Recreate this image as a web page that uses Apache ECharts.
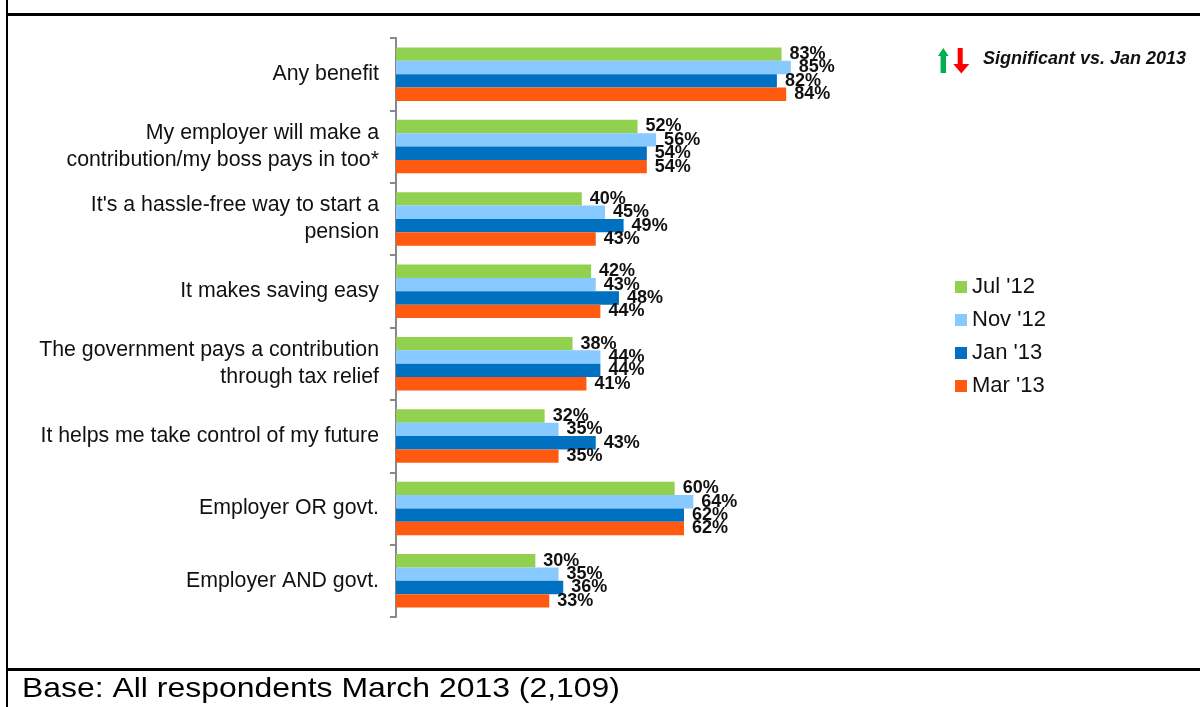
<!DOCTYPE html>
<html>
<head>
<meta charset="utf-8">
<title>Auto-enrolment benefits</title>
<script src="https://cdn.jsdelivr.net/npm/echarts@6/dist/echarts.min.js"></script>
<style>
  html, body { margin: 0; padding: 0; background: #fff; }
  #myChart { width: 1200px; height: 707px; }
</style>
</head>
<body>
<div id="myChart"></div>
<script>
// categories, top to bottom
var categories = [
  'Any benefit',
  'My employer will make a\ncontribution/my boss pays in too*',
  "It's a hassle-free way to start a\npension",
  'It makes saving easy',
  'The government pays a contribution\nthrough tax relief',
  'It helps me take control of my future',
  'Employer OR govt.',
  'Employer AND govt.'
]
var seriesNames = ["Jul '12", "Nov '12", "Jan '13", "Mar '13"]
var jul12 = [83, 52, 40, 42, 38, 32, 60, 30] // Jul '12
var nov12 = [85, 56, 45, 43, 44, 35, 64, 35] // Nov '12
var jan13 = [82, 54, 49, 48, 44, 43, 62, 36] // Jan '13
var mar13 = [84, 54, 43, 44, 41, 35, 62, 33] // Mar '13
var colors = ['#92D050', '#88C9FF', '#0070C0', '#FF5A0F']
var footText = 'Base: All respondents March 2013 (2,109)'
var noteText = 'Significant vs. Jan 2013'

var font = '"Liberation Sans", Arial, sans-serif'
var myChart = echarts.init(document.getElementById('myChart'))

function makeSeries (name, data, color) {
  return {
    name: name,
    type: 'bar',
    data: data,
    barGap: '0%',
    barCategoryGap: '26%',
    itemStyle: { color: color },
    label: {
      show: true,
      position: 'right',
      distance: 8,
      formatter: '{c}%',
      color: '#111',
      fontFamily: font,
      fontWeight: 'bold',
      fontSize: 18
    }
  }
}

var option = {
  animation: false,
  textStyle: { fontFamily: font },
  grid: { left: 396, top: 38, width: 464.5, bottom: 90 },
  legend: {
    orient: 'vertical',
    left: 955,
    top: 276,
    padding: 0,
    icon: 'rect',
    itemWidth: 12,
    itemHeight: 12,
    itemGap: 11,
    data: seriesNames,
    textStyle: { fontSize: 22, color: '#111', fontFamily: font }
  },
  xAxis: {
    type: 'value',
    min: 0,
    max: 100,
    show: false
  },
  yAxis: {
    type: 'category',
    inverse: true,
    data: categories,
    axisLine: { show: true, lineStyle: { color: '#888', width: 2 } },
    axisTick: { show: true, length: 6, lineStyle: { color: '#888', width: 2 } },
    axisLabel: {
      margin: 17,
      fontSize: 21.3,
      lineHeight: 27,
      color: '#111',
      fontFamily: font,
      align: 'right'
    }
  },
  graphic: [
    // frame lines
    { type: 'rect', shape: { x: 6, y: 0, width: 2, height: 707 }, style: { fill: '#000' } },
    { type: 'rect', shape: { x: 6, y: 13, width: 1194, height: 3 }, style: { fill: '#000' } },
    { type: 'rect', shape: { x: 6, y: 668, width: 1194, height: 3 }, style: { fill: '#000' } },
    {
      type: 'text',
      left: 22,
      top: 675,
      scaleX: 1.14,
      style: { text: footText, fontSize: 28, fill: '#000', fontFamily: font }
    },
    // significance key
    {
      type: 'polygon',
      shape: { points: [[938, 56], [943.3, 48], [948.6, 56], [946, 56], [946, 73], [940.6, 73], [940.6, 56]] },
      style: { fill: '#00B050' }
    },
    {
      type: 'polygon',
      shape: { points: [[957.7, 48], [962.7, 48], [962.7, 64], [969.3, 64], [961.3, 73.5], [953.3, 64], [957.7, 64]] },
      style: { fill: '#FF0000' }
    },
    {
      type: 'text',
      left: 983,
      top: 50,
      style: { text: noteText, fontSize: 18, fontWeight: 'bold', fontStyle: 'italic', fill: '#111', fontFamily: font }
    }
  ],
  series: [
    makeSeries(seriesNames[0], jul12, colors[0]),
    makeSeries(seriesNames[1], nov12, colors[1]),
    makeSeries(seriesNames[2], jan13, colors[2]),
    makeSeries(seriesNames[3], mar13, colors[3])
  ]
}
myChart.setOption(option)
</script>
</body>
</html>
